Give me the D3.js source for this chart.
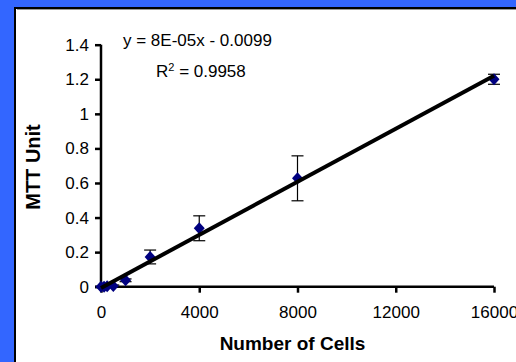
<!DOCTYPE html>
<html><head><meta charset="utf-8">
<script src="https://cdn.jsdelivr.net/npm/d3@7"></script>
<style>html,body{margin:0;padding:0;background:#3366ff;}svg{display:block;}</style>
</head><body>
<script>
const cellCounts = [0, 125, 250, 500, 1000, 2000, 4000, 8000, 16000];
const mttValues  = [0.0, 0.0, 0.003, 0.004, 0.037, 0.172, 0.338, 0.627, 1.200];
const mttErrors  = [0.004, 0.004, 0.004, 0.006, 0.008, 0.04, 0.072, 0.13, 0.029];
const xTicks = [0, 4000, 8000, 12000, 16000];
const yTicks = [0, 0.2, 0.4, 0.6, 0.8, 1, 1.2, 1.4];
const equationText = "y = 8E-05x - 0.0099";
const r2Value = "0.9958";
const xTitle = "Number of Cells";
const yTitle = "MTT Unit";

const W = 516, H = 362;
const svg = d3.select("body").append("svg").attr("width", W).attr("height", H);
svg.append("rect").attr("width", W).attr("height", H).attr("fill", "#3366ff");
// white panel
svg.append("rect").attr("x", 15).attr("y", 8).attr("width", W).attr("height", H)
  .attr("fill", "#fff").attr("stroke", "#000").attr("stroke-width", 2);
svg.append("line").attr("x1", 17).attr("x2", W).attr("y1", 9.5).attr("y2", 9.5)
  .attr("stroke", "#999").attr("stroke-width", 1);

const x = d3.scaleLinear().domain([0, 16000]).range([101, 494]);
const y = d3.scaleLinear().domain([0, 1.4]).range([286.7, 44.7]);
const font = "Liberation Sans, Arial, sans-serif";

// axes
const yAxis = d3.axisLeft(y).tickValues(yTicks).tickSize(6).tickPadding(6)
  .tickFormat(d => String(d));
const gy = svg.append("g").attr("transform", "translate(101,0)").call(yAxis);
const xAxis = d3.axisBottom(x).tickValues(xTicks).tickSize(6).tickPadding(13)
  .tickFormat(d => String(d));
const gx = svg.append("g").attr("transform", "translate(0,286.7)").call(xAxis);
[gx, gy].forEach(g => {
  g.select(".domain").attr("stroke", "#000").attr("stroke-width", 2.5);
  g.selectAll(".tick line").attr("stroke", "#000").attr("stroke-width", 2.5);
  g.selectAll(".tick text").attr("fill", "#000").style("font-family", font).style("font-size", "17px");
});
gy.select(".domain").attr("d", `M0,${y(0)}V${y(1.4)}`);
gx.select(".domain").attr("d", `M${x(0)},0H${x(16000)}`);

// error bars
const data = cellCounts.map((c, i) => ({c, v: mttValues[i], e: mttErrors[i]}));
const eb = svg.append("g").attr("stroke", "#000").attr("stroke-width", 1.2);
data.forEach(d => {
  const cx = x(d.c);
  eb.append("line").attr("x1", cx).attr("x2", cx).attr("y1", y(d.v + d.e)).attr("y2", y(d.v - d.e));
  eb.append("line").attr("x1", cx - 6).attr("x2", cx + 6).attr("y1", y(d.v + d.e)).attr("y2", y(d.v + d.e));
  eb.append("line").attr("x1", cx - 6).attr("x2", cx + 6).attr("y1", y(d.v - d.e)).attr("y2", y(d.v - d.e));
});

// points
svg.append("g").selectAll("path").data(data).join("path")
  .attr("d", d => { const cx = x(d.c), cy = y(d.v); return `M${cx},${cy-6}L${cx+5.5},${cy}L${cx},${cy+6}L${cx-5.5},${cy}Z`; })
  .attr("fill", "#000080");

// least squares trendline
const n = data.length;
const mx = d3.mean(cellCounts), my = d3.mean(mttValues);
const slope = d3.sum(data, d => (d.c - mx) * (d.v - my)) / d3.sum(data, d => (d.c - mx) ** 2);
const intercept = my - slope * mx;
svg.append("line")
  .attr("x1", x(0)).attr("y1", y(intercept))
  .attr("x2", x(16000)).attr("y2", y(intercept + slope * 16000))
  .attr("stroke", "#000").attr("stroke-width", 4);

// equation
svg.append("text").attr("x", 123).attr("y", 46).style("font-family", font).style("font-size", "17px")
  .attr("fill", "#000").text(equationText);
const r2 = svg.append("text").attr("x", 156).attr("y", 77).style("font-family", font).style("font-size", "17px").attr("fill", "#000");
r2.append("tspan").text("R");
r2.append("tspan").attr("dy", -6).style("font-size", "11px").text("2");
r2.append("tspan").attr("dy", 6).text(" = " + r2Value);

// titles
svg.append("text").attr("x", 292.5).attr("y", 350).attr("text-anchor", "middle")
  .style("font-family", font).style("font-size", "19px").style("font-weight", "bold").attr("fill", "#000").text(xTitle);
svg.append("text").attr("transform", "translate(40,167) rotate(-90)").attr("text-anchor", "middle")
  .style("font-family", font).style("font-size", "20px").style("font-weight", "bold").attr("fill", "#000").text(yTitle);
</script>
</body></html>
